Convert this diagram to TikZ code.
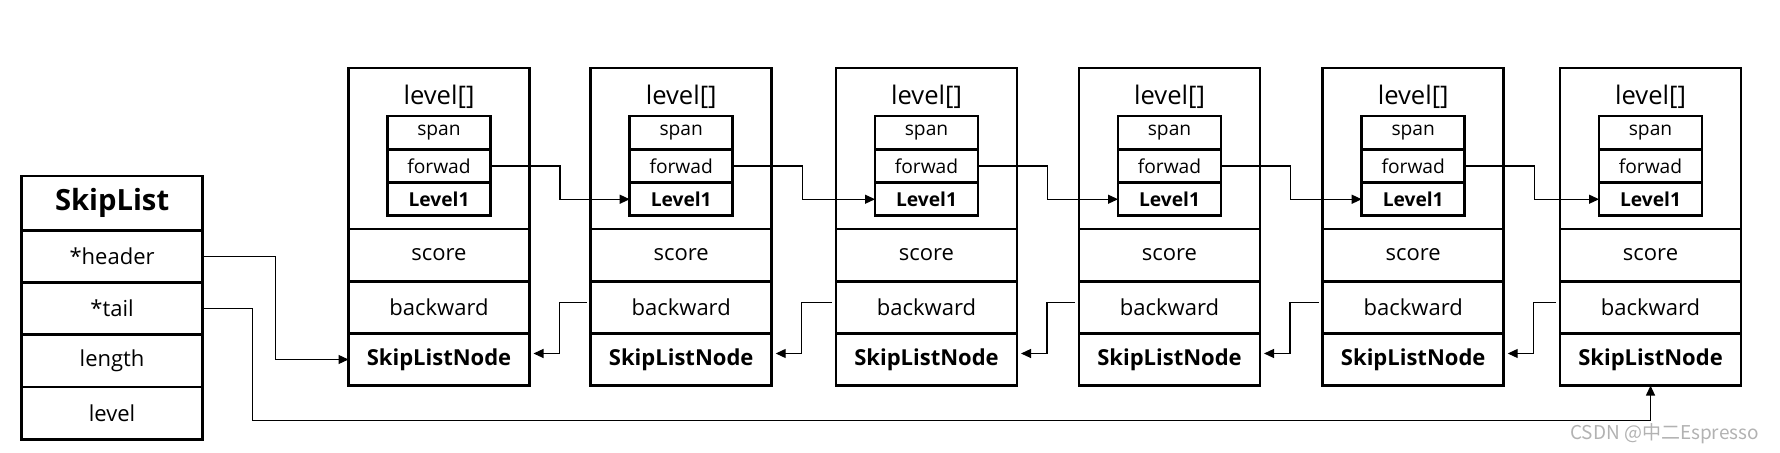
\documentclass[tikz,border=0pt]{standalone}
\usepackage{fontspec}
\setmainfont{Open Sans}
\newfontfamily\cjk{Noto Sans CJK SC}
\usetikzlibrary{positioning,arrows.meta}
\tikzstyle{cell}=[draw, line width=1.4pt, minimum width=90.5pt, minimum height=26.1pt,
  inner sep=0pt, outer sep=0pt, font=\fontsize{11}{13}\selectfont]
\tikzstyle{lvcell}=[cell, minimum width=51.5pt, minimum height=16.65pt, font=\fontsize{9.6}{11}\selectfont]

\begin{document}
\begin{tikzpicture}[x=0.5pt,y=0.5pt,node distance=0pt,>={Triangle[length=5pt,width=4.5pt]},
    link/.style={->,line width=0.6pt}]
  \useasboundingbox (0,0) rectangle (1780,453);

  % SkipList
  \node[cell,minimum height=27.2pt,anchor=north west,font=\bfseries\fontsize{14.6}{17}\selectfont] (sl) at (21.6,277) {SkipList};
  \node[cell] (hd)  [below=of sl]  {*header};
  \node[cell] (tl)  [below=of hd]  {*tail};
  \node[cell] (len) [below=of tl]  {length};
  \node[cell] (lvl) [below=of len] {level};

  % SkipListNode
  \foreach \i/\x in {1/348.5,2/590.7,3/836,4/1079,5/1322.7,6/1560} {
    \node[cell,minimum height=80.5pt,anchor=north west] (lv_\i) at (\x,385) {};
    \node (lt_\i) [below=14.5pt of lv_\i.north,anchor=center,font=\fontsize{12.8}{15}\selectfont] {level[]};
    \node[lvcell] (sp_\i) [below=24pt of lv_\i.north] {span};
    \node[lvcell] (fw_\i) [below=of sp_\i] {forwad};
    \node[lvcell,font=\bfseries\fontsize{9.6}{11}\selectfont] (l1_\i) [below=of fw_\i] {Level1};
    \node[cell] (sc_\i) [below=of lv_\i] {score};
    \node[cell] (bw_\i) [below=of sc_\i] {backward};
    \node[cell,font=\bfseries\fontsize{11}{13}\selectfont] (sn_\i) [below=of bw_\i] {SkipListNode};
  }

  \draw[link] (hd.east) -- ++(72.5,0) |- (sn_1.west);
  \coordinate[below=17.5pt of sn_6.south] (tb);
  \draw[link] (tl.east) -- ++(50,0) |- (tb) -- (sn_6.south);

  \foreach \i/\j in {1/2,2/3,3/4,4/5,5/6} {
    \draw[link] (fw_\i.east) -- ++(69.5,0) |- (l1_\j.west);
    \draw[link] ([xshift=-2pt,yshift=2.5pt]bw_\j.west) -- ([xshift=15pt,yshift=2.5pt]bw_\i.east)
      |- ([xshift=2pt,yshift=3pt]sn_\i.east);
  }

  \node[font=\cjk\fontsize{9.5}{11}\selectfont,text=gray!60,anchor=east] (wm) at (1766,19) {CSDN @中二Espresso};
\end{tikzpicture}
\end{document}
